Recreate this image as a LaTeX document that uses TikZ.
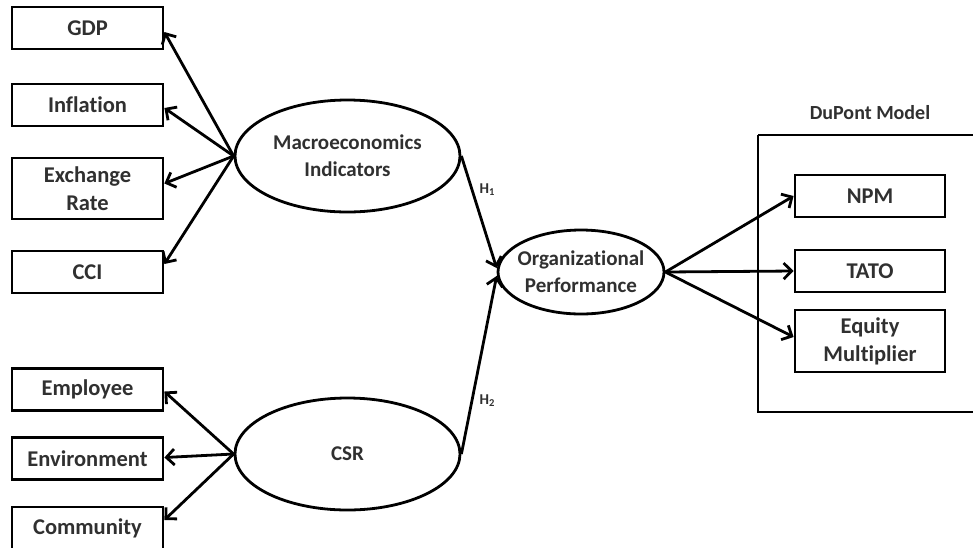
\documentclass[tikz,border=0pt]{standalone}
\usepackage{fontspec}
\setmainfont[Ligatures=NoCommon]{Carlito}
\usetikzlibrary{arrows.meta,shapes.geometric}
\definecolor{txt}{HTML}{303030}
\begin{document}
\begin{tikzpicture}[x=1pt,y=-1pt,
  box/.style={draw=black,line width=2.8pt,minimum width=151pt,inner sep=0pt,font=\bfseries\fontsize{22.5}{28}\selectfont,text=txt,align=center},
  oval/.style={draw=black,line width=2.8pt,ellipse,inner sep=0pt,font=\bfseries\fontsize{21}{27}\selectfont,text=txt,align=center},
  arr/.style={line width=2.8pt,-{Straight Barb[length=8pt,width=16pt,line width=2.8pt]}},
  hlab/.style={font=\bfseries\fontsize{15}{17}\selectfont,text=txt}]
\useasboundingbox (0,0) rectangle (973,547);
\fill[white] (0,0) rectangle (973,547);
% left boxes
\node[box,minimum height=42pt] (gdp) at (87.5,28) {GDP};
\node[box,minimum height=42pt] (inf) at (87.5,105) {Inflation};
\node[box,minimum height=61pt] (exr) at (87.5,188.5) {Exchange\\Rate};
\node[box,minimum height=42pt] (cci) at (87.5,272) {CCI};
\node[box,minimum height=42pt] (emp) at (87.5,389.5) {Employee};
\node[box,minimum height=42pt] (env) at (87.5,458.5) {Environment};
\node[box,minimum height=42pt] (com) at (87.5,528) {Community};
% ellipses
\node[oval,minimum width=225pt,minimum height=112pt] (mac) at (347.5,156) {Macroeconomics\\Indicators};
\node[oval,minimum width=225pt,minimum height=112pt] (csr) at (347.5,454) {CSR};
\node[oval,inner xsep=-10pt,inner ysep=-6pt,minimum width=166pt,minimum height=84pt] (op) at (581,272) {Organizational\\Performance};
% DuPont
\draw[line width=2.4pt] (758,135) -- (990,135) (758,135) -- (758,412) -- (990,412);
\node[font=\bfseries\fontsize{20}{24}\selectfont,text=txt] (dplab) at (870,113) {DuPont Model};
\node[box,minimum width=150pt,minimum height=42pt] (npm) at (870,196) {NPM};
\node[box,minimum width=150pt,minimum height=42pt] (tato) at (870,271) {TATO};
\node[box,minimum width=150pt,minimum height=62pt] (eq) at (870,341) {Equity\\Multiplier};
% arrows from macro
\draw[arr] (mac.west) -- ([yshift=-4pt]gdp.east);
\draw[arr] (mac.west) -- ([yshift=-3pt]inf.east);
\draw[arr] (mac.west) -- ([yshift=5pt]exr.east);
\draw[arr] (mac.west) -- ([yshift=8pt]cci.east);
% arrows from CSR
\draw[arr] (csr.west) -- ([yshift=-2pt]emp.east);
\draw[arr] (csr.west) -- ([yshift=1pt]env.east);
\draw[arr] (csr.west) -- ([yshift=8pt]com.east);
% hypotheses
\draw[arr] (mac.east) -- node[hlab,pos=0.3,right=3pt] {H\textsubscript{1}} ([yshift=4pt]op.west);
\draw[arr] (csr.east) -- node[hlab,pos=0.3,right=3pt] {H\textsubscript{2}} ([yshift=-4pt]op.west);
% to DuPont
\draw[arr] (op.east) -- (npm.west);
\draw[arr] (op.east) -- (tato.west);
\draw[arr] (op.east) -- ([yshift=4pt]eq.west);
\end{tikzpicture}
\end{document}
